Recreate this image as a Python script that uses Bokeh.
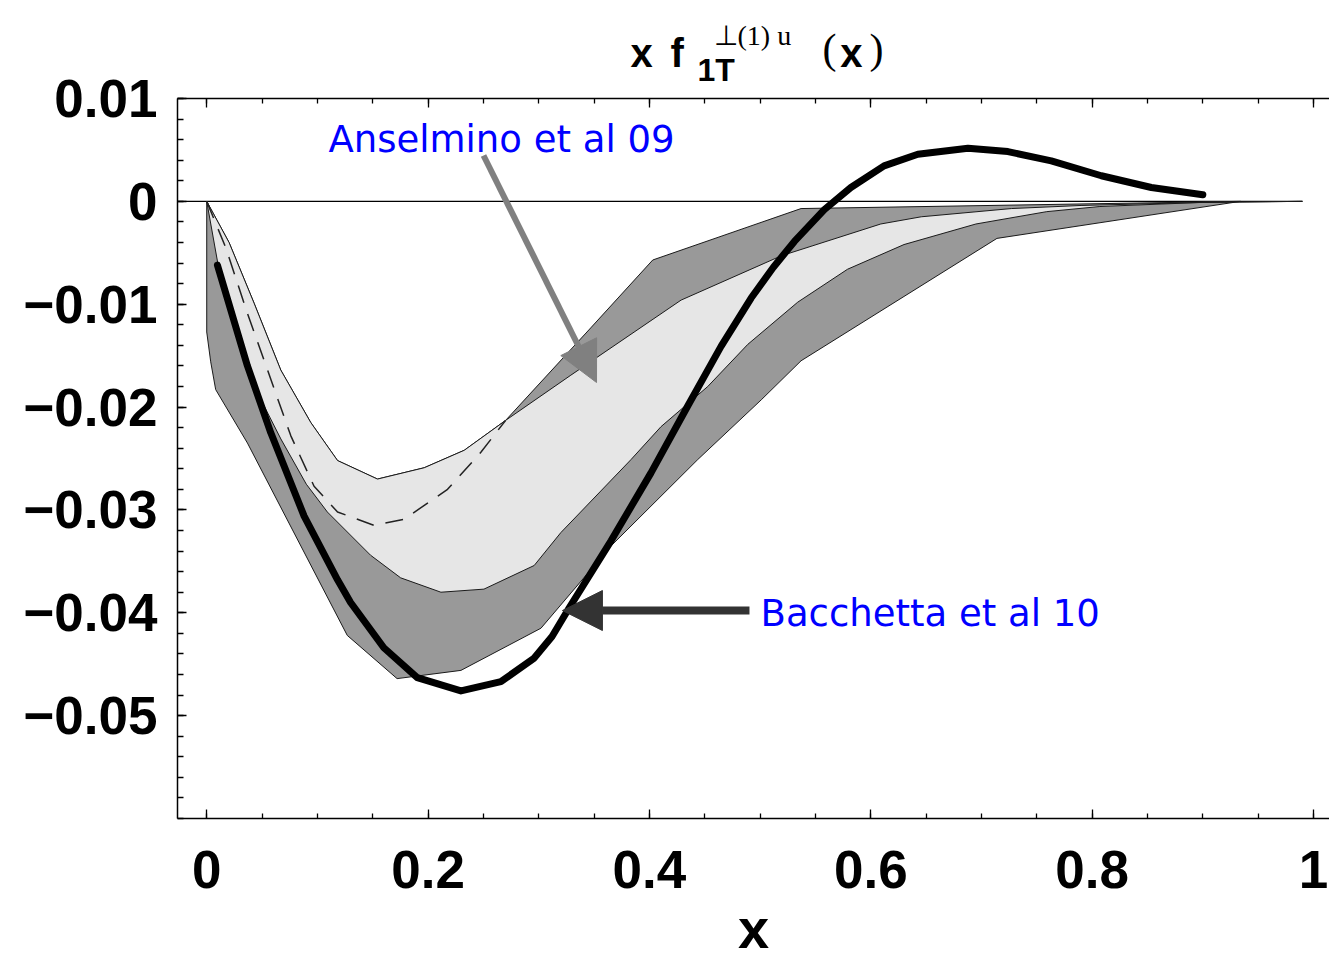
import numpy as np
from bokeh.plotting import figure
from bokeh.layouts import column
from bokeh.models import Range1d, FixedTicker, LinearAxis, Label, Arrow, NormalHead
from bokeh.embed import file_html
from bokeh.resources import INLINE

# ---------------- data ----------------
x_ticks = [0, 0.2, 0.4, 0.6, 0.8, 1]
x_tick_labels = ["0", "0.2", "0.4", "0.6", "0.8", "1"]
y_ticks = [-0.05, -0.04, -0.03, -0.02, -0.01, 0, 0.01]
y_tick_labels = ["\u22120.05", "\u22120.04", "\u22120.03", "\u22120.02", "\u22120.01", "0", "0.01"]

# Anselmino et al 09 : light band edges
light_upper_x = [0, 0.0202, 0.0428, 0.0669, 0.094, 0.1182, 0.1543, 0.1965, 0.2327, 0.27,
                 0.329, 0.4286, 0.519, 0.609, 0.6456, 0.727, 0.79, 0.9, 0.99]
light_upper_y = [0, -0.0040, -0.0099, -0.0164, -0.0215, -0.0252, -0.0270, -0.0259, -0.0242, -0.0213,
                 -0.0169, -0.0096, -0.0053, -0.0022, -0.0015, -0.0007, -0.0004, -0.0001, 0]
light_lower_x = [0, 0.01, 0.03, 0.05, 0.067, 0.09, 0.109, 0.148, 0.1752, 0.2116, 0.2505, 0.2959,
                 0.320, 0.3834, 0.4105, 0.4527, 0.4889, 0.534, 0.579, 0.63, 0.695, 0.759, 0.807,
                 0.9, 0.99]
light_lower_y = [0, -0.0060, -0.0140, -0.0195, -0.0231, -0.0275, -0.0302, -0.0344, -0.0366, -0.0380,
                 -0.0377, -0.0354, -0.0322, -0.0251, -0.0219, -0.0180, -0.0139, -0.0098, -0.0066,
                 -0.0042, -0.0022, -0.0010, -0.0005, -0.0001, 0]

# outer (dark) band edges
dark_upper_x = [0, 0.0202, 0.0428, 0.0669, 0.094, 0.1182, 0.1543, 0.1965, 0.2327, 0.27,
                0.347, 0.403, 0.537, 0.934]
dark_upper_y = [0, -0.0040, -0.0099, -0.0164, -0.0215, -0.0252, -0.0270, -0.0259, -0.0242, -0.0213,
                -0.0123, -0.0057, -0.0007, 0]
dark_lower_x = [0, 0, 0.0036, 0.0081, 0.0368, 0.127, 0.172, 0.2297, 0.302, 0.3653,
                0.4437, 0.501, 0.537, 0.714, 0.934]
dark_lower_y = [0, -0.0127, -0.0156, -0.0183, -0.0235, -0.0422, -0.0464, -0.0456, -0.0415,
                -0.0335, -0.0251, -0.0193, -0.0155, -0.0036, 0]

# dashed central curve
dashed_x = [0, 0.0172, 0.0368, 0.0579, 0.076, 0.097, 0.1182, 0.1513, 0.1784, 0.2176, 0.2477, 0.27]
dashed_y = [0, -0.0045, -0.0109, -0.0173, -0.0228, -0.0277, -0.0302, -0.0315, -0.0309, -0.0280,
            -0.0244, -0.0213]

# Bacchetta et al 10 curve
bacc_x = [0.0097, 0.0368, 0.0579, 0.088, 0.1182, 0.130, 0.160, 0.1902, 0.2297, 0.2658, 0.2959,
          0.312, 0.327, 0.3653, 0.4014, 0.4346, 0.4647, 0.4919, 0.512, 0.531, 0.558, 0.582,
          0.612, 0.6425, 0.6878, 0.7239, 0.7631, 0.8083, 0.8535, 0.900]
bacc_y = [-0.0062, -0.0160, -0.0225, -0.0306, -0.0368, -0.0390, -0.0434, -0.0463, -0.0476, -0.0467,
          -0.0444, -0.0423, -0.0396, -0.0330, -0.0264, -0.0199, -0.0141, -0.0094, -0.0064, -0.0039,
          -0.0008, 0.00135, 0.00345, 0.00458, 0.00516, 0.00484, 0.00394, 0.00249, 0.00135, 0.00065]

zero_x = [-0.0264, 0.99]
zero_y = [0, 0]

# annotation anchors (data units)
ans_arrow = dict(x_start=0.2501, y_start=0.00446, x_end=0.3522, y_end=-0.01761)
bac_arrow = dict(x_start=0.4904, y_start=-0.03978, x_end=0.3214, y_end=-0.03978)
ans_text_pos = (0.1100, 0.00602)
bac_text_pos = (0.5004, -0.04007)

W, H = 1329, 963
TITLE_H = 92          # height of the title strip
MAIN_TOP = 66         # page y where the plot canvas starts (overlaps the strip, both transparent)
FRAME_TOP = 98

x_range = Range1d(-0.0264, 1.01446)

# ---------------- title strip (shares the x scale of the plot) ----------------
t = figure(width=W, height=TITLE_H, x_range=x_range, y_range=Range1d(0, TITLE_H),
           x_axis_type=None, y_axis_type=None, output_backend="svg", toolbar_location=None,
           min_border=0, outline_line_color=None, background_fill_color=None,
           border_fill_color=None)
t.grid.visible = False

# title pieces:  x f_{1T}^{⊥(1) u} (x)
# (left position in x units, baseline px from top of page, text, font, style, size)
title_parts = [
    (0.3829, 65, "x", "Liberation Sans", "bold", 40),
    (0.4191, 65, "f", "Liberation Sans", "bold", 40),
    (0.4435, 80, "1T", "Liberation Sans", "bold", 32),
    (0.4579, 44, "\u22a5(1) u", "Liberation Serif", "normal", 28),
    (0.5564, 62, "(", "Liberation Serif", "normal", 42),
    (0.5725, 65, "x", "Liberation Sans", "bold", 40),
    (0.5989, 62, ")", "Liberation Serif", "normal", 42),
]
for tx, ty, tt, tf, ts, tsz in title_parts:
    t.add_layout(Label(x=tx, y=TITLE_H - ty + 0.32 * tsz, text=tt,
                       text_font=tf, text_font_style=ts, text_font_size=f"{tsz}px",
                       text_color="black", text_align="left", text_baseline="alphabetic"))

# ---------------- main figure ----------------
p = figure(width=W, height=H - MAIN_TOP,
           x_range=x_range, y_range=Range1d(-0.06, 0.01),
           output_backend="svg", toolbar_location=None,
           min_border_left=177, min_border_right=0, min_border_top=FRAME_TOP - MAIN_TOP,
           min_border_bottom=145,
           outline_line_color=None, background_fill_color="white", border_fill_color=None)
p.margin = (MAIN_TOP - TITLE_H, 0, 0, 0)
p.grid.visible = False

x_minor = [float(v) for v in np.round(np.arange(0, 1.0001, 0.05), 2)]
y_minor = [float(v) for v in np.round(np.arange(-0.06, 0.0101, 0.002), 3)]


def style_axis(ax):
    ax.axis_line_color = "black"
    ax.axis_line_width = 1.5
    ax.major_tick_line_color = "black"
    ax.minor_tick_line_color = "black"
    ax.major_tick_line_width = 1.3
    ax.minor_tick_line_width = 1.3
    ax.major_tick_in = 9
    ax.major_tick_out = 0
    ax.minor_tick_in = 5
    ax.minor_tick_out = 0
    ax.major_label_text_font = "Liberation Sans"
    ax.major_label_text_font_style = "bold"
    ax.major_label_text_font_size = "53px"
    ax.major_label_text_color = "black"


xa = p.xaxis[0]
xa.ticker = FixedTicker(ticks=x_ticks, minor_ticks=x_minor)
style_axis(xa)
xa.major_label_overrides = dict(zip(x_ticks, x_tick_labels))
xa.major_label_standoff = 32
xa.axis_label = "x"
xa.axis_label_text_font = "Liberation Sans"
xa.axis_label_text_font_style = "bold"
xa.axis_label_text_font_size = "56px"
xa.axis_label_text_color = "black"
xa.axis_label_standoff = 6

ya = p.yaxis[0]
ya.ticker = FixedTicker(ticks=y_ticks, minor_ticks=y_minor)
style_axis(ya)
ya.minor_tick_in = 6
ya.major_label_overrides = dict(zip(y_ticks, y_tick_labels))
ya.major_label_standoff = 20

top = LinearAxis(ticker=FixedTicker(ticks=x_ticks, minor_ticks=x_minor))
style_axis(top)
top.major_label_overrides = {v: "" for v in x_ticks}
top.major_label_text_font_size = "1px"
top.major_label_standoff = 0
p.add_layout(top, "above")

# ---------------- glyphs ----------------
p.line(zero_x, zero_y, line_color="black", line_width=1.3)

p.patch(dark_upper_x + dark_lower_x[::-1], dark_upper_y + dark_lower_y[::-1],
        fill_color="#999999", line_color="#1a1a1a", line_width=1)
p.patch(light_upper_x + light_lower_x[::-1], light_upper_y + light_lower_y[::-1],
        fill_color="#e6e6e6", line_color="#1a1a1a", line_width=1)
p.line(dashed_x, dashed_y, line_color="#222222", line_width=1.5, line_dash="18 12")
p.line(bacc_x, bacc_y, line_color="black", line_width=7, line_cap="round", line_join="round")

# ---------------- annotations ----------------
p.add_layout(Arrow(end=NormalHead(size=40, fill_color="#808080", line_color="#808080"),
                   line_color="#808080", line_width=6, **ans_arrow))
p.add_layout(Arrow(end=NormalHead(size=40, fill_color="#333333", line_color="#333333"),
                   line_color="#333333", line_width=8, **bac_arrow))

p.add_layout(Label(x=ans_text_pos[0], y=ans_text_pos[1], text="Anselmino et al 09",
                   text_font="DejaVu Sans", text_font_size="37px", text_color="#0000ff",
                   text_align="left", text_baseline="alphabetic"))
p.add_layout(Label(x=bac_text_pos[0], y=bac_text_pos[1], text="Bacchetta et al 10",
                   text_font="DejaVu Sans", text_font_size="37px", text_color="#0000ff",
                   text_align="left", text_baseline="alphabetic"))

layout = column(t, p, spacing=0)
open("out.html", "w").write(file_html(layout, INLINE))
